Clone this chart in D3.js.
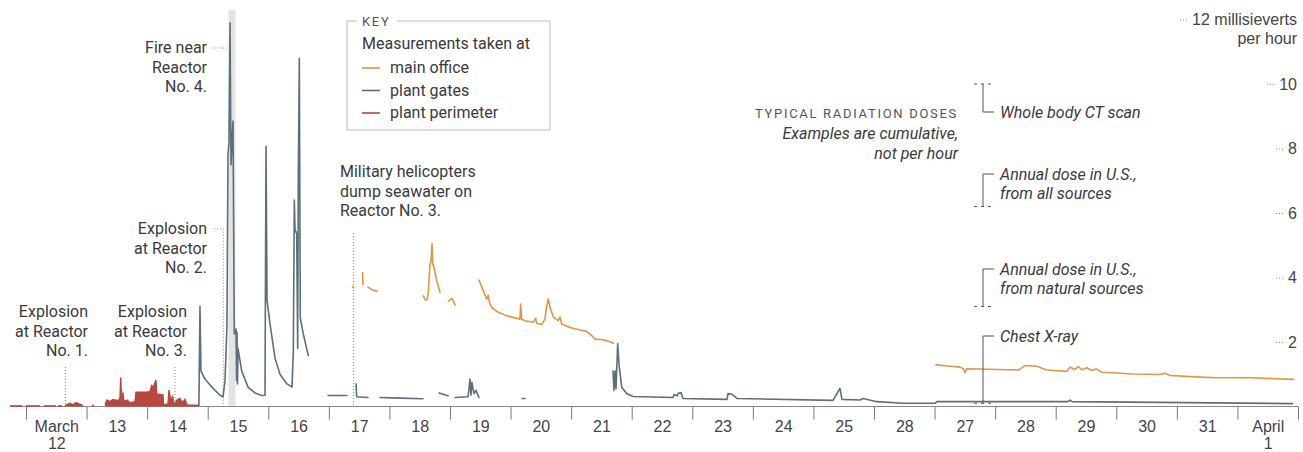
<!DOCTYPE html>
<meta charset="utf-8">
<style>
body { margin: 0; background: #fff; }
svg { font-family: Roboto, "Liberation Sans", sans-serif; }
text { fill: #3a3a3a; font-size: 16px; }
.axis text { fill: #444; font-size: 16px; }
.caps { font-size: 13px; letter-spacing: 1.7px; fill: #555; }
.dose { font-style: italic; }
.lead { stroke: #888; stroke-width: 1; stroke-dasharray: 1,2; fill: none; }
.brk { stroke: #555; stroke-width: 1; fill: none; }
</style>
<body>
<svg width="1303" height="452"></svg>
<script src="https://d3js.org/d3.v7.min.js"></script>
<script>
var parse = d3.utcParse("%Y-%m-%d %H:%M");
function t(s) { return parse("2011-" + s); }

var dayLabels = ["March\n12", "13", "14", "15", "16", "17", "18", "19", "20", "21", "22",
                 "23", "24", "25", "28", "27", "28", "29", "30", "31", "April\n1"];
var yTicks = [2, 4, 6, 8, 10, 12];

// readings, millisieverts per hour; null = gap in the record
var mainOffice = [
  ["03-17 09:20", 3.72], ["03-17 09:50", 3.68], null,
  ["03-17 13:20", 4.15], ["03-17 13:32", 3.78], null,
  ["03-17 15:30", 3.7], ["03-17 17:06", 3.62], ["03-17 19:05", 3.57], null,
  ["03-18 13:25", 3.43], ["03-18 14:18", 3.3], ["03-18 15:01", 3.32], ["03-18 15:25", 3.55],
  ["03-18 16:05", 4.41], ["03-18 16:29", 4.5], ["03-18 16:53", 5.05], ["03-18 17:09", 4.42],
  ["03-18 17:40", 4.3], ["03-18 18:44", 3.9], ["03-18 20:02", 3.54], null,
  ["03-18 23:20", 3.27], ["03-19 00:48", 3.35], ["03-19 02:00", 3.15], null,
  ["03-19 11:29", 3.92], ["03-19 13:11", 3.59], ["03-19 14:32", 3.33], ["03-19 15:10", 3.45],
  ["03-19 15:34", 3.25], ["03-19 16:31", 3.07], ["03-19 19:08", 2.92], ["03-19 22:28", 2.81],
  ["03-20 03:44", 2.71], ["03-20 04:00", 3.18], ["03-20 04:24", 2.71], ["03-20 05:42", 2.66],
  ["03-20 09:00", 2.61], ["03-20 09:57", 2.74], ["03-20 10:21", 2.58], ["03-20 12:20", 2.54],
  ["03-20 13:38", 2.71], ["03-20 14:18", 3.12], ["03-20 14:56", 3.33], ["03-20 15:37", 3.07],
  ["03-20 16:56", 2.78], ["03-20 18:55", 2.66], ["03-20 19:35", 2.78], ["03-20 20:16", 2.56],
  ["03-20 23:33", 2.45], ["03-21 03:31", 2.37], ["03-21 06:10", 2.33], ["03-21 08:09", 2.2],
  ["03-21 09:28", 2.09], ["03-21 12:45", 2.07], ["03-21 15:24", 2.01], ["03-21 16:43", 1.96], null,
  ["03-27 00:34", 1.29], ["03-27 07:18", 1.24], ["03-27 10:05", 1.22], ["03-27 11:24", 1.17],
  ["03-27 12:04", 1.05], ["03-27 12:44", 1.17], ["03-28 09:12", 1.13], ["03-28 11:50", 1.27],
  ["03-28 16:28", 1.25], ["03-28 20:26", 1.13], ["03-29 04:22", 1.09], ["03-29 05:41", 1.22],
  ["03-29 07:40", 1.15], ["03-29 08:58", 1.24], ["03-29 10:19", 1.14], ["03-29 12:18", 1.2],
  ["03-29 14:17", 1.12], ["03-29 16:16", 1.16], ["03-29 18:15", 1.06], ["03-30 00:11", 1.04],
  ["03-30 06:46", 1.01], ["03-30 17:20", 0.99], ["03-30 19:19", 1.03], ["03-30 21:18", 0.96],
  ["03-31 09:11", 0.91], ["03-31 15:47", 0.89], ["04-01 05:00", 0.89], ["04-01 22:10", 0.84]
];

var plantGates = [
  ["03-14 20:30", 0.03], ["03-14 20:56", 3.1], ["03-14 21:20", 1.1], ["03-14 22:56", 0.85],
  ["03-15 01:42", 0.6], ["03-15 04:52", 0.35], ["03-15 06:04", 0.3], ["03-15 06:51", 0.8],
  ["03-15 07:38", 2.5], ["03-15 08:02", 7.8], ["03-15 08:26", 8.2], ["03-15 08:50", 11.9],
  ["03-15 09:14", 7.5], ["03-15 09:37", 8.2], ["03-15 10:01", 8.85], ["03-15 10:32", 2.25],
  ["03-15 11:13", 2.4], ["03-15 11:25", 0.8], ["03-15 11:36", 2.3], ["03-15 11:48", 0.7],
  ["03-15 12:00", 1.8], ["03-15 13:28", 1.1], ["03-15 15:58", 0.6], ["03-15 18:42", 0.42],
  ["03-15 21:23", 0.34], ["03-15 22:42", 0.35], ["03-15 23:06", 8.07], ["03-15 23:30", 3.3],
  ["03-16 00:41", 2.56], ["03-16 02:40", 1.5], ["03-16 04:38", 1.0], ["03-16 05:50", 0.87],
  ["03-16 07:25", 0.7], ["03-16 09:24", 0.6], ["03-16 09:55", 1.7], ["03-16 10:19", 6.4],
  ["03-16 10:35", 5.5], ["03-16 11:15", 5.35], ["03-16 11:39", 1.8], ["03-16 11:54", 7.2],
  ["03-16 12:18", 10.8], ["03-16 12:41", 2.75], ["03-16 13:52", 2.25], ["03-16 15:51", 1.58], null,
  ["03-16 23:40", 0.34], ["03-17 07:11", 0.34], null,
  ["03-17 10:46", 0.7], ["03-17 11:00", 0.3], ["03-17 15:30", 0.28], null,
  ["03-17 20:16", 0.28], ["03-18 04:12", 0.26], ["03-18 13:18", 0.24], null,
  ["03-18 19:38", 0.42], ["03-18 23:12", 0.33], null,
  ["03-19 02:00", 0.28], ["03-19 07:08", 0.3], ["03-19 07:32", 0.55], ["03-19 07:55", 0.85],
  ["03-19 08:19", 0.35], ["03-19 08:42", 0.75], ["03-19 09:30", 0.4], ["03-19 10:18", 0.5],
  ["03-19 11:30", 0.28], null,
  ["03-20 04:32", 0.25], ["03-20 05:43", 0.25], null,
  ["03-21 16:35", 1.1], ["03-21 16:59", 0.5], ["03-21 17:23", 1.1], ["03-21 17:46", 0.55],
  ["03-21 18:27", 1.95], ["03-21 18:58", 1.3], ["03-21 20:02", 0.6], ["03-21 22:01", 0.4],
  ["03-22 00:31", 0.31], ["03-22 16:22", 0.28], ["03-22 16:46", 0.37], ["03-22 17:57", 0.33],
  ["03-22 18:21", 0.4], ["03-22 19:32", 0.43], ["03-22 20:19", 0.25], ["03-23 13:45", 0.22],
  ["03-23 14:09", 0.4], ["03-23 15:44", 0.38], ["03-23 17:43", 0.25], ["03-25 07:45", 0.19],
  ["03-25 10:31", 0.56], ["03-25 11:18", 0.22], ["03-25 18:26", 0.2], ["03-25 19:37", 0.25],
  ["03-26 01:10", 0.15], ["03-26 11:30", 0.1], ["03-27 00:10", 0.1], ["03-27 00:58", 0.15],
  ["03-29 04:52", 0.15], ["03-29 05:40", 0.2], ["03-29 06:28", 0.15], ["04-01 21:50", 0.09]
];

var plantPerimeter = [
  ["03-11 17:40", 0.02], ["03-11 22:25", 0.02], null,
  ["03-12 00:00", 0.02], ["03-12 05:33", 0.02], null,
  ["03-12 07:08", 0.02], ["03-12 11:53", 0.02], null,
  ["03-12 12:41", 0.02], ["03-12 14:16", 0.02], null,
  ["03-12 15:27", 0.03], ["03-12 17:26", 0.1], ["03-12 18:37", 0.05], ["03-12 19:48", 0.12],
  ["03-12 21:00", 0.08], ["03-12 22:35", 0.03], null,
  ["03-13 02:09", 0.03], ["03-13 02:56", 0.03], null,
  ["03-13 07:18", 0.05], ["03-13 08:06", 0.2], ["03-13 09:17", 0.15], ["03-13 10:28", 0.22],
  ["03-13 12:27", 0.18], ["03-13 13:15", 0.25], ["03-13 13:31", 0.9], ["03-13 13:50", 0.3],
  ["03-13 14:26", 0.4], ["03-13 14:50", 0.15], ["03-13 16:01", 0.2], ["03-13 17:13", 0.12],
  ["03-13 19:11", 0.15], ["03-13 19:35", 0.44], ["03-13 23:32", 0.44], ["03-14 01:07", 0.46],
  ["03-14 01:48", 0.65], ["03-14 02:26", 0.6], ["03-14 03:30", 0.82], ["03-14 03:47", 0.39],
  ["03-14 06:17", 0.36], ["03-14 06:29", 0.05], ["03-14 08:16", 0.08], ["03-14 08:40", 0.51],
  ["03-14 09:20", 0.2], ["03-14 10:08", 0.31], ["03-14 10:39", 0.05], ["03-14 11:50", 0.2],
  ["03-14 13:01", 0.25], ["03-14 13:49", 0.12], ["03-14 15:00", 0.22], ["03-14 15:48", 0.05],
  ["03-14 20:33", 0.03]
];

var eventTimes = ["03-12 15:36", "03-14 11:01", "03-15 06:10", "03-15 09:38", "03-17 09:48"];
var eventLabels = [
  ["Explosion", "at Reactor", "No. 1."],
  ["Explosion", "at Reactor", "No. 3."],
  ["Explosion", "at Reactor", "No. 2."],
  ["Fire near", "Reactor", "No. 4."],
  ["Military helicopters", "dump seawater on", "Reactor No. 3."]
];
var fireWindow = ["03-15 08:15", "03-15 11:00"];

var doseValues = [10, 6.2, 3.1, 0.1];
var doseLabels = [
  ["Whole body CT scan"],
  ["Annual dose in U.S.,", "from all sources"],
  ["Annual dose in U.S.,", "from natural sources"],
  ["Chest X-ray"]
];

var seriesNames = ["main office", "plant gates", "plant perimeter"];
var seriesColors = ["#e39540", "#5c6f7b", "#b6483d"];

var svg = d3.select("svg");
var x = d3.scaleUtc().domain([t("03-12 00:00"), t("04-02 00:00")]).range([26, 1298]);
var y = d3.scaleLinear().domain([0, 12]).range([406.5, 19.5]);

function rows(arr) {
  return arr.map(function(d) { return d ? { t: t(d[0]), v: d[1] } : null; });
}
var line = d3.line().defined(function(d) { return d; })
    .x(function(d) { return x(d.t); }).y(function(d) { return y(d.v); });
var area = d3.area().defined(function(d) { return d; })
    .x(function(d) { return x(d.t); }).y0(y(0)).y1(function(d) { return y(d.v); });

// fire window shading
svg.append("rect")
    .attr("x", x(t(fireWindow[0])))
    .attr("width", x(t(fireWindow[1])) - x(t(fireWindow[0])))
    .attr("y", 10).attr("height", y(0) - 10)
    .attr("fill", "#e3e3e3");

// x axis: day boundaries + labels
var days = d3.utcDay.range(t("03-12 00:00"), t("04-03 00:00"));
var xAxis = svg.append("g").attr("class", "axis").attr("transform", "translate(0," + y(0) + ")");
xAxis.call(d3.axisBottom(x).tickValues(days).tickSize(13).tickFormat(""));
xAxis.select(".domain").remove();
xAxis.selectAll(".tick line").attr("stroke", "#777");

svg.append("line")
    .attr("x1", x(t(plantPerimeter[0][0]))).attr("x2", x.range()[1])
    .attr("y1", y(0)).attr("y2", y(0))
    .attr("stroke", "#888");

var mids = days.slice(0, dayLabels.length).map(function(d) { return d3.utcHour.offset(d, 12); });
var xLab = svg.append("g").attr("class", "axis").attr("transform", "translate(0," + y(0) + ")");
xLab.call(d3.axisBottom(x).tickValues(mids).tickSize(0).tickPadding(14)
    .tickFormat(function(d, i) { return dayLabels[i]; }));
xLab.select(".domain").remove();
xLab.selectAll(".tick text").each(function(d, i) {
  var parts = dayLabels[i].split("\n");
  if (parts.length > 1) {
    var el = d3.select(this).text(null);
    parts.forEach(function(p, j) {
      el.append("tspan").attr("x", 0).attr("dy", j ? "1.05em" : null).text(p);
    });
  }
});

// y axis on the right
var yAx = svg.append("g").attr("class", "axis").attr("transform", "translate(1297,0)");
yAx.call(d3.axisLeft(y).tickValues(yTicks).tickSize(0).tickPadding(0)
    .tickFormat(function(d) { return d === 12 ? "12 millisieverts" : d; }));
yAx.select(".domain").remove();
yAx.selectAll(".tick").each(function() {
  var g = d3.select(this);
  var w = g.select("text").node().getComputedTextLength();
  g.append("line").attr("class", "lead")
      .attr("x1", -w - 12).attr("x2", -w - 3);
});
yAx.append("text").attr("x", 0).attr("y", y(12) + 24).attr("text-anchor", "end")
    .attr("fill", "#444").text("per hour");

// event markers
var ex = eventTimes.map(function(s) { return x(t(s)); });
function block(lines, xx, y0, anchor) {
  var tx = svg.append("text").attr("text-anchor", anchor);
  lines.forEach(function(l, j) {
    tx.append("tspan").attr("x", xx).attr("y", y0 + j * 19.5).text(l);
  });
  return tx;
}
block(eventLabels[0], 88, 317, "end");
svg.append("path").attr("class", "lead").attr("d", "M" + ex[0] + ",367V" + y(0));
block(eventLabels[1], 187, 317, "end");
svg.append("path").attr("class", "lead").attr("d", "M" + ex[1] + ",367V" + y(0));
block(eventLabels[2], 207, 234, "end");
svg.append("path").attr("class", "lead").attr("d", "M214,229H" + ex[2] + "V" + y(0));
block(eventLabels[3], 207, 53, "end");
svg.append("path").attr("class", "lead").attr("d", "M214,48H" + x(t(fireWindow[0])));
block(eventLabels[4], 340, 177, "start");
svg.append("path").attr("class", "lead").attr("d", "M" + ex[4] + ",233V" + y(0));

// series
svg.append("path").datum(rows(plantPerimeter))
    .attr("d", area).attr("fill", seriesColors[2]);
svg.append("path").datum(rows(plantPerimeter))
    .attr("d", line).attr("fill", "none").attr("stroke", seriesColors[2]).attr("stroke-width", 1.4);
svg.append("path").datum(rows(plantGates))
    .attr("d", line).attr("fill", "none").attr("stroke", seriesColors[1])
    .attr("stroke-width", 1.6).attr("stroke-linejoin", "round").attr("stroke-linecap", "round");
svg.append("path").datum(rows(mainOffice))
    .attr("d", line).attr("fill", "none").attr("stroke", seriesColors[0])
    .attr("stroke-width", 1.6).attr("stroke-linejoin", "round").attr("stroke-linecap", "round");

// key
var key = svg.append("g");
key.append("path").attr("d", "M357,21H347V130H550V21H397")
    .attr("fill", "none").attr("stroke", "#bbb");
key.append("text").attr("class", "caps").attr("x", 362).attr("y", 26).text("KEY");
key.append("text").attr("x", 362).attr("y", 49).text("Measurements taken at");
seriesNames.forEach(function(n, i) {
  var yy = 73 + i * 22.5;
  key.append("line").attr("x1", 362).attr("x2", 380).attr("y1", yy - 5).attr("y2", yy - 5)
      .attr("stroke", seriesColors[i]).attr("stroke-width", 1.6);
  key.append("text").attr("x", 390).attr("y", yy).text(n);
});

// typical doses
svg.append("text").attr("class", "caps").attr("x", 958).attr("y", 118)
    .attr("text-anchor", "end").text("TYPICAL RADIATION DOSES");
block(["Examples are cumulative,", "not per hour"], 958, 139, "end").attr("class", "dose");

var doseText = [118, 180, 275, 342];
var bx = 983;
doseValues.forEach(function(v, i) {
  var yv = y(v), hook = doseText[i] - 6;
  svg.append("path").attr("class", "brk")
      .attr("d", "M" + (bx + 11) + "," + hook + "H" + bx + "V" + yv);
  svg.append("line").attr("x1", bx - 10).attr("x2", bx + 11).attr("y1", yv).attr("y2", yv)
      .attr("stroke", "#555").attr("stroke-dasharray", "3,4").attr("stroke-dashoffset", -1);
  var tx = svg.append("text").attr("class", "dose");
  doseLabels[i].forEach(function(l, j) {
    tx.append("tspan").attr("x", 1000).attr("y", doseText[i] + j * 19).text(l);
  });
});
</script>
